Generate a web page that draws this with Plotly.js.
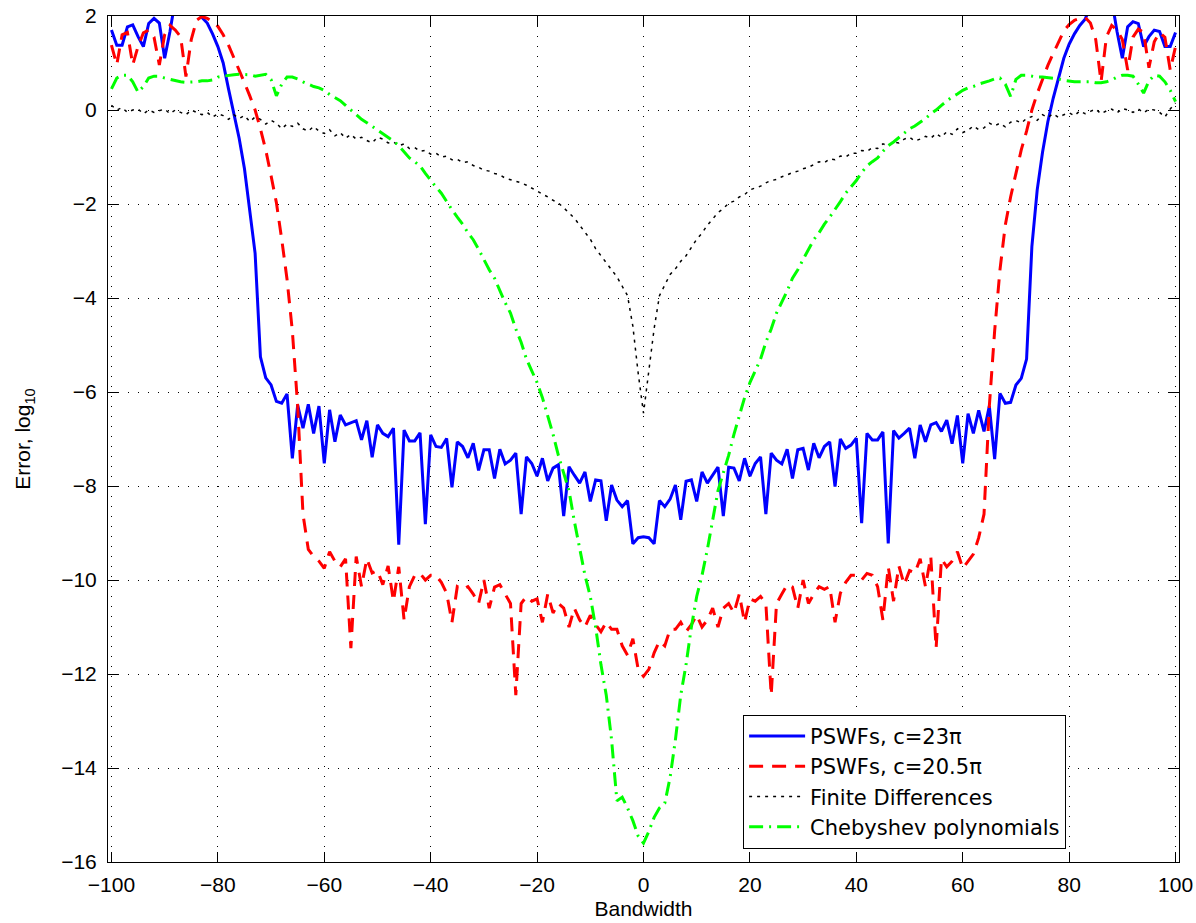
<!DOCTYPE html>
<html>
<head>
<meta charset="utf-8">
<script src="https://cdn.plot.ly/plotly-3.0.1.min.js"></script>
<style>
  html, body { margin: 0; padding: 0; background: #ffffff; }
  #chart { width: 1196px; height: 923px; }
</style>
</head>
<body>
<div id="chart"></div>
<script>
// Bandwidth samples (integer steps from -100 to 100)
const bandwidth = [];
for (let b = -100; b <= 100; b++) bandwidth.push(b);

// log10 error, PSWF basis with c = 23*pi  (bandwidth -100 .. 0, then 1 .. 100)
const pswf23Neg = [
  1.70, 1.38, 1.38, 1.77, 1.81, 1.56, 1.35, 1.84, 1.95, 1.85,
  1.10, 1.67, 2.35, 2.45, 2.60, 2.50, 2.20, 1.97, 1.85, 1.62,
  1.35, 1.00, 0.45, -0.10, -0.60, -1.25, -2.10, -3.05, -5.25, -5.70,
  -5.85, -6.20, -6.24, -6.04, -7.41, -6.28, -6.77, -6.26, -6.88, -6.30,
  -7.52, -6.38, -7.06, -6.49, -6.70, -6.65, -6.61, -7.02, -6.61, -7.39,
  -6.70, -6.88, -6.95, -6.77, -9.25, -6.81, -7.04, -7.04, -6.87, -8.81,
  -6.91, -7.16, -7.18, -6.99, -8.03, -7.06, -7.16, -7.40, -7.09, -7.67,
  -7.23, -7.23, -7.84, -7.22, -7.53, -7.45, -7.30, -8.60, -7.38, -7.52,
  -7.79, -7.41, -7.89, -7.62, -7.55, -8.64, -7.59, -7.77, -7.94, -7.70,
  -8.33, -7.87, -7.89, -8.74, -7.98, -8.30, -8.44, -8.31, -9.23, -9.10,
  -9.08
];
const pswf23Pos = [
  -9.10, -9.23, -8.31, -8.44, -8.28, -7.98, -8.72, -7.90, -7.87, -8.33,
  -7.70, -7.94, -7.77, -7.60, -8.64, -7.60, -7.62, -7.89, -7.41, -7.79,
  -7.52, -7.38, -8.60, -7.30, -7.45, -7.53, -7.22, -7.84, -7.23, -7.20,
  -7.66, -7.09, -7.40, -7.16, -7.06, -8.01, -7.00, -7.20, -7.13, -6.98,
  -8.79, -6.88, -7.02, -7.02, -6.85, -9.22, -6.82, -6.98, -6.88, -6.77,
  -7.41, -6.70, -7.06, -6.70, -6.65, -6.84, -6.60, -7.10, -6.50, -7.52,
  -6.46, -6.88, -6.39, -6.84, -6.30, -7.43, -6.03, -6.24, -6.22, -5.85,
  -5.71, -5.30, -2.90, -1.70, -0.90, -0.25, 0.25, 0.70, 1.10, 1.40,
  1.62, 1.80, 1.93, 2.20, 2.50, 2.60, 2.45, 2.35, 1.67, 1.10,
  1.77, 1.88, 1.84, 1.35, 1.56, 1.70, 1.67, 1.35, 1.35, 1.65
];

// log10 error, PSWF basis with c = 20.5*pi
const pswf205Neg = [
  1.38, 0.96, 1.60, 1.65, 0.96, 1.35, 1.64, 1.70, 1.55, 0.96,
  1.60, 1.80, 1.70, 1.56, 0.71, 1.50, 1.91, 1.99, 1.95, 1.88,
  1.78, 1.60, 1.38, 1.12, 0.85, 0.58, 0.30, 0.00, -0.40, -0.85,
  -1.40, -1.97, -2.75, -3.60, -4.70, -6.30, -8.60, -9.35, -9.50, -9.60,
  -9.75, -9.40, -9.60, -9.72, -9.55, -11.45, -9.50, -10.14, -9.55, -9.85,
  -9.80, -10.10, -9.70, -10.45, -9.72, -10.85, -10.14, -9.90, -9.86, -10.00,
  -9.90, -9.90, -10.05, -10.28, -10.90, -10.14, -10.20, -10.14, -10.30, -10.50,
  -10.00, -10.60, -10.15, -10.10, -10.30, -10.50, -12.45, -10.50, -10.35, -10.45,
  -10.40, -10.90, -10.30, -10.70, -10.50, -10.60, -11.00, -10.60, -10.85, -11.00,
  -10.75, -10.95, -11.10, -10.90, -11.05, -11.05, -11.40, -11.60, -11.25, -11.90,
  -12.05
];
const pswf205Pos = [
  -11.90, -11.55, -11.30, -11.40, -11.05, -11.05, -10.90, -11.10, -10.95, -10.75,
  -11.00, -10.85, -10.60, -11.00, -10.60, -10.50, -10.70, -10.30, -10.90, -10.40,
  -10.45, -10.35, -10.50, -12.45, -10.50, -10.30, -10.10, -10.15, -10.60, -10.00,
  -10.50, -10.30, -10.14, -10.20, -10.14, -10.90, -10.28, -10.05, -9.90, -9.90,
  -10.00, -9.86, -9.90, -10.14, -10.85, -9.72, -10.45, -9.70, -10.10, -9.80,
  -9.85, -9.55, -10.14, -9.50, -11.45, -9.55, -9.72, -9.60, -9.40, -9.75,
  -9.60, -9.45, -9.10, -8.60, -6.30, -4.70, -3.40, -2.45, -1.85, -1.35,
  -0.85, -0.45, 0.00, 0.35, 0.65, 0.95, 1.20, 1.45, 1.68, 1.82,
  1.91, 1.95, 1.97, 1.85, 1.50, 0.60, 1.55, 1.80, 1.70, 1.50,
  0.85, 1.55, 1.72, 1.65, 0.90, 1.45, 1.65, 1.55, 0.85, 1.35
];

// log10 error, finite differences
const finiteDiffNeg = [
  0.10, 0.00, 0.05, -0.05, 0.00, 0.02, -0.08, 0.00, -0.05, -0.02,
  0.02, -0.08, 0.00, -0.05, -0.10, 0.00, -0.05, -0.10, -0.05, -0.15,
  -0.08, -0.12, -0.20, -0.10, -0.18, -0.12, -0.25, -0.15, -0.20, -0.30,
  -0.22, -0.28, -0.40, -0.30, -0.35, -0.28, -0.40, -0.45, -0.35, -0.45,
  -0.50, -0.42, -0.55, -0.48, -0.60, -0.52, -0.62, -0.58, -0.65, -0.70,
  -0.58, -0.62, -0.70, -0.68, -0.76, -0.72, -0.82, -0.80, -0.88, -0.86,
  -0.94, -0.92, -1.00, -0.98, -1.06, -1.05, -1.12, -1.10, -1.18, -1.22,
  -1.28, -1.30, -1.35, -1.38, -1.45, -1.48, -1.52, -1.55, -1.60, -1.66,
  -1.72, -1.78, -1.85, -1.92, -1.98, -2.08, -2.18, -2.30, -2.45, -2.60,
  -2.75, -2.95, -3.10, -3.25, -3.40, -3.55, -3.75, -3.95, -4.60, -5.60,
  -6.45
];
const finiteDiffPos = [
  -5.60, -4.65, -3.95, -3.72, -3.50, -3.38, -3.22, -3.10, -2.92, -2.75,
  -2.62, -2.45, -2.32, -2.18, -2.10, -1.98, -1.94, -1.85, -1.80, -1.70,
  -1.66, -1.62, -1.55, -1.50, -1.48, -1.42, -1.38, -1.33, -1.30, -1.25,
  -1.22, -1.16, -1.10, -1.12, -1.04, -1.06, -0.98, -1.00, -0.92, -0.92,
  -0.86, -0.88, -0.80, -0.82, -0.72, -0.76, -0.68, -0.70, -0.62, -0.58,
  -0.66, -0.62, -0.56, -0.60, -0.50, -0.58, -0.46, -0.52, -0.40, -0.48,
  -0.43, -0.34, -0.42, -0.38, -0.28, -0.34, -0.28, -0.36, -0.26, -0.22,
  -0.28, -0.18, -0.14, -0.22, -0.10, -0.16, -0.08, -0.16, -0.10, -0.06,
  -0.12, -0.02, -0.08, -0.03, 0.02, -0.08, -0.02, 0.02, -0.06, 0.03,
  0.00, -0.05, 0.02, -0.06, 0.02, 0.00, -0.05, -0.15, 0.02, 0.15
];

// log10 error, Chebyshev polynomials
const chebyshevNeg = [
  0.45, 0.68, 0.74, 0.74, 0.60, 0.38, 0.50, 0.68, 0.72, 0.72,
  0.68, 0.65, 0.62, 0.60, 0.59, 0.59, 0.60, 0.62, 0.62, 0.64,
  0.70, 0.72, 0.74, 0.75, 0.76, 0.76, 0.75, 0.72, 0.74, 0.76,
  0.65, 0.30, 0.55, 0.70, 0.70, 0.66, 0.60, 0.55, 0.50, 0.47,
  0.42, 0.33, 0.27, 0.20, 0.10, 0.00, -0.12, -0.20, -0.27, -0.35,
  -0.42, -0.50, -0.58, -0.66, -0.76, -0.88, -1.02, -1.10, -1.19, -1.35,
  -1.50, -1.64, -1.77, -1.95, -2.12, -2.28, -2.43, -2.61, -2.76, -2.96,
  -3.18, -3.40, -3.58, -3.85, -4.10, -4.32, -4.66, -4.94, -5.30, -5.55,
  -5.80, -6.12, -6.50, -6.90, -7.35, -7.72, -8.10, -8.75, -9.35, -9.90,
  -10.35, -11.00, -11.80, -12.45, -13.40, -14.70, -14.62, -14.85, -15.12, -15.45,
  -15.60
];
const chebyshevPos = [
  -15.35, -15.05, -14.85, -14.75, -14.20, -13.40, -12.45, -11.80, -11.00, -10.35,
  -9.90, -9.35, -8.75, -8.10, -7.72, -7.35, -6.90, -6.50, -6.12, -5.80,
  -5.55, -5.30, -4.94, -4.66, -4.32, -4.10, -3.85, -3.58, -3.40, -3.18,
  -2.96, -2.76, -2.61, -2.43, -2.28, -2.12, -1.95, -1.77, -1.64, -1.50,
  -1.33, -1.19, -1.10, -1.02, -0.88, -0.76, -0.68, -0.58, -0.50, -0.40,
  -0.34, -0.26, -0.18, -0.08, 0.00, 0.10, 0.20, 0.28, 0.34, 0.42,
  0.47, 0.50, 0.55, 0.58, 0.62, 0.66, 0.68, 0.55, 0.29, 0.65,
  0.74, 0.74, 0.72, 0.70, 0.70, 0.69, 0.68, 0.66, 0.63, 0.61,
  0.60, 0.60, 0.60, 0.60, 0.58, 0.58, 0.60, 0.64, 0.70, 0.74,
  0.74, 0.72, 0.55, 0.36, 0.62, 0.74, 0.72, 0.60, 0.42, 0.18
];

const pswf23 = pswf23Neg.concat(pswf23Pos);
const pswf205 = pswf205Neg.concat(pswf205Pos);
const finiteDiff = finiteDiffNeg.concat(finiteDiffPos);
const chebyshev = chebyshevNeg.concat(chebyshevPos);

const seriesNames = ['PSWFs, c=23\u03c0', 'PSWFs, c=20.5\u03c0', 'Finite Differences', 'Chebyshev polynomials'];
const xTicks = [-100, -80, -60, -40, -20, 0, 20, 40, 60, 80, 100];
const yTicks = [-16, -14, -12, -10, -8, -6, -4, -2, 0, 2];

const FONT = 'Liberation Sans, Arial, Helvetica, sans-serif';
const LEGEND_FONT = 'DejaVu Sans, Liberation Sans, sans-serif';

const traces = [
  { x: bandwidth, y: pswf23, name: seriesNames[0], mode: 'lines',
    line: { color: '#0000ff', width: 3 } },
  { x: bandwidth, y: pswf205, name: seriesNames[1], mode: 'lines',
    line: { color: '#ff0000', width: 3, dash: '14px,9px' } },
  { x: bandwidth, y: finiteDiff, name: seriesNames[2], mode: 'lines',
    line: { color: '#000000', width: 1.5, dash: '3px,5px' } },
  { x: bandwidth, y: chebyshev, name: seriesNames[3], mode: 'lines',
    line: { color: '#00ff00', width: 3, dash: '14px,6px,2px,6px' } }
];

const axisCommon = {
  showline: true, linecolor: '#000', linewidth: 1, mirror: 'ticks',
  ticks: 'inside', ticklen: 10, tickwidth: 1, tickcolor: '#000',
  showgrid: true, gridcolor: '#000', gridwidth: 1, griddash: '1px,9px',
  zeroline: false,
  tickfont: { family: FONT, size: 21, color: '#000' }
};

const layout = {
  width: 1196, height: 923,
  margin: { l: 108, r: 17, t: 16, b: 61, pad: 0 },
  paper_bgcolor: '#ffffff', plot_bgcolor: '#ffffff',
  font: { family: FONT, color: '#000' },
  showlegend: true,
  legend: {
    x: 0.593, y: 0.174, xanchor: 'left', yanchor: 'top',
    bgcolor: '#ffffff', bordercolor: '#000', borderwidth: 1,
    font: { family: LEGEND_FONT, size: 21, color: '#000' },
    itemwidth: 56, tracegroupgap: 0
  },
  xaxis: Object.assign({}, axisCommon, {
    range: [-100.65, 100.65],
    tickmode: 'array', tickvals: xTicks,
    ticklabelstandoff: 4,
    title: { text: 'Bandwidth', font: { family: FONT, size: 21, color: '#000' }, standoff: 6 }
  }),
  yaxis: Object.assign({}, axisCommon, {
    range: [-16, 2],
    tickmode: 'array', tickvals: yTicks,
    ticklabelstandoff: 6,
    title: { text: 'Error, log<sub>10</sub>', font: { family: FONT, size: 21, color: '#000' }, standoff: 24 }
  })
};

Plotly.newPlot('chart', traces, layout, { displayModeBar: false, responsive: false });
</script>
</body>
</html>
